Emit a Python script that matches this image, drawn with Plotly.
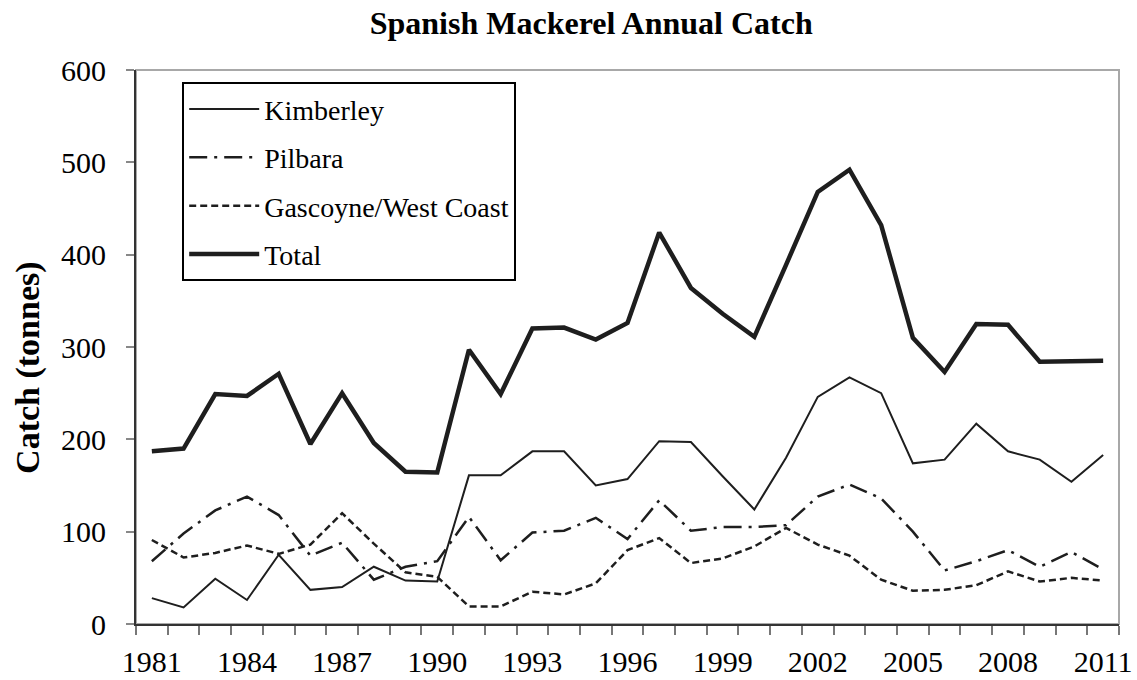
import plotly.graph_objects as go

years = list(range(1981, 2012))
kimberley = [28, 18, 49, 26, 75, 37, 40, 62, 47, 46, 161, 161, 187, 187, 150, 157,
             198, 197, 160, 124, 180, 246, 267, 250, 174, 178, 217, 187, 178, 154, 183]
pilbara = [68, 98, 123, 138, 118, 74, 88, 48, 62, 68, 116, 69, 99, 101, 115, 92,
           134, 101, 105, 105, 107, 138, 151, 136, 100, 58, 68, 80, 62, 78, 59]
gascoyne = [91, 72, 77, 85, 76, 86, 120, 87, 56, 51, 19, 19, 35, 32, 44, 80,
            93, 66, 71, 84, 104, 86, 74, 48, 36, 37, 42, 57, 46, 50, 47]
total = [187, 190, 249, 247, 271, 195, 250, 196, 165, 164, 297, 249, 320, 321, 308, 326,
         424, 364, 336, 311, 389, 468, 492, 432, 310, 273, 325, 324, 284, 284, 285]
tick_years = years[::3]

FONT = 'Times New Roman, Liberation Serif, Times, serif'
INK = '#1e1e1e'

fig = go.Figure()

series = [
    ('Kimberley', kimberley, 2, 'solid'),
    ('Pilbara', pilbara, 2.5, '18px,7px,3px,7px'),
    ('Gascoyne/West Coast', gascoyne, 2.5, '7px,4px'),
    ('Total', total, 4.5, 'solid'),
]
for name, vals, w, dash in series:
    fig.add_trace(go.Scatter(x=years, y=vals, mode='lines', name=name, legendgroup=name,
                             line=dict(color=INK, width=w, dash=dash)))

# grey frame round the plot area (Excel style)
fig.add_shape(type='rect', xref='paper', yref='paper', x0=0, y0=0, x1=1, y1=1,
              line=dict(color='#a8a8a8', width=2), layer='below')

fig.update_layout(
    width=1137, height=680,
    margin=dict(l=136, r=18, t=70, b=56),
    paper_bgcolor='white', plot_bgcolor='white',
    font=dict(family=FONT, color='black'),
    title=dict(text='<b>Spanish Mackerel Annual Catch</b>', font=dict(size=32, family=FONT),
               x=0.52, xref='container', xanchor='center', y=0.966, yanchor='middle'),
    legend=dict(x=0.047, y=0.978, xanchor='left', yanchor='top',
                bordercolor='black', borderwidth=2, bgcolor='white',
                font=dict(size=28, family=FONT), itemwidth=70, tracegroupgap=9),
    showlegend=True,
)

fig.update_xaxes(range=[1980.5, 2011.5], tickvals=tick_years, ticks='', automargin=False,
                 tickfont=dict(size=30, family=FONT), ticklabelstandoff=10,
                 ticklabeloverflow='allow',
                 showline=True, linecolor='#333', linewidth=2, showgrid=False, zeroline=False,
                 minor=dict(ticks='outside', tick0=1980.5, dtick=1, ticklen=9,
                            tickcolor='#777', tickwidth=1.5, showgrid=False))
fig.update_yaxes(range=[0, 600], dtick=100, ticks='outside', ticklen=8, tickcolor='#888',
                 tickwidth=1.5, tickfont=dict(size=30, family=FONT), ticklabelstandoff=14,
                 automargin=False,
                 showline=True, linecolor='#333', linewidth=2, showgrid=False, zeroline=False)

fig.add_annotation(text='<b>Catch (tonnes)</b>', textangle=-90, xref='paper', yref='paper',
                   x=-0.11, y=0.462, xanchor='center', yanchor='middle', showarrow=False,
                   font=dict(size=34, family=FONT, color='black'))

# drop the browser's default 8px body margin so the figure fills the window
fig.write_html('out.html', config={'displayModeBar': False},
               post_script="document.body.style.margin='0';")
